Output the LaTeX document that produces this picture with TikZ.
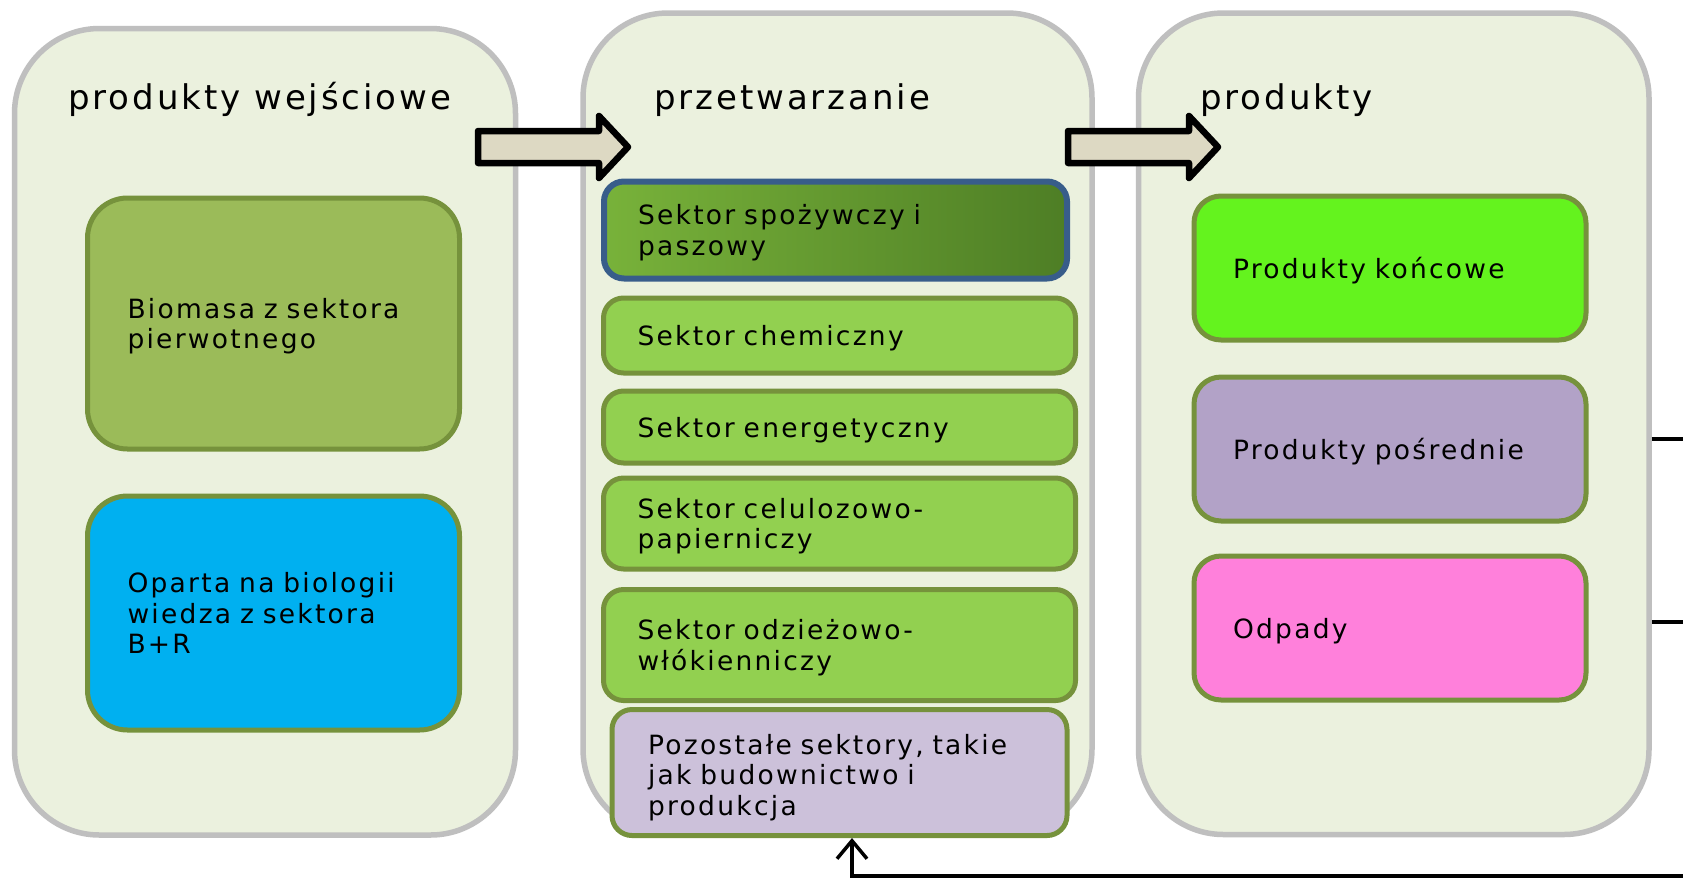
\documentclass[tikz,border=0pt]{standalone}
\usepackage{fontspec}
\setmainfont{DejaVu Sans}[LetterSpace=8.6]
\usetikzlibrary{arrows.meta}
\definecolor{panelfill}{RGB}{235,241,222}
\definecolor{panelline}{RGB}{191,191,191}
\definecolor{olive}{RGB}{118,146,60}
\definecolor{biomasa}{RGB}{155,187,89}
\definecolor{wiedza}{RGB}{0,176,240}
\definecolor{sektor}{RGB}{146,208,80}
\definecolor{spozA}{RGB}{120,178,58}
\definecolor{spozB}{RGB}{78,126,37}
\definecolor{spozline}{RGB}{56,93,138}
\definecolor{inne}{RGB}{204,193,218}
\definecolor{koncowe}{RGB}{100,243,30}
\definecolor{posrednie}{RGB}{178,162,199}
\definecolor{odpady}{RGB}{255,128,219}
\definecolor{strzalka}{RGB}{221,217,195}
\tikzstyle{panel} = [draw=panelline, fill=panelfill, line width=5.5pt, rounded corners=85pt, inner sep=0pt]
\tikzstyle{heading} = [font=\fontsize{34}{40}\selectfont, anchor=base west, inner sep=0pt]
\tikzstyle{box} = [draw=olive, line width=5pt, align=left, font=\fontsize{26.5}{30.5}\selectfont, inner ysep=0pt]
\tikzstyle{jednawiersz} = [text depth=0pt]
\tikzstyle{dwawiersze} = [text depth=31pt]
\tikzstyle{inbox} = [box, rounded corners=40pt, minimum width=372pt, text width=292pt, inner xsep=40pt]
\tikzstyle{sektorbox} = [box, fill=sektor, rounded corners=20pt, minimum width=472pt, text width=404pt, inner xsep=34pt]
\tikzstyle{outbox} = [box, jednawiersz, rounded corners=27pt, minimum width=392pt, text width=314pt, inner xsep=39pt, minimum height=144pt]
\tikzstyle{flow} = [draw=black, fill=strzalka, line width=6.5pt, line join=round]
\tikzstyle{conn} = [draw=black, line width=3.5pt]
\newcommand{\blokstrzalka}[1]{\draw[flow] (#1) -- ++(121,0) -- ++(0,-15) -- ++(29,31) -- ++(-29,31) -- ++(0,-15) -- ++(-121,0) -- cycle;}

\begin{document}
\begin{tikzpicture}[x=1pt, y=-1pt]
\useasboundingbox[fill=white] (0,0) rectangle (1683,879);

\node[panel, minimum width=501pt, minimum height=806.5pt] (wej) at (265,431.75) {};
\node[panel, minimum width=509pt, minimum height=821pt] (proc) at (837.5,423.5) {};
\node[panel, minimum width=510.5pt, minimum height=821.5pt] (wyj) at (1393.75,423.75) {};
\node[heading] (hwej) at (68,109) {produkty wejściowe};
\node[heading] (hproc) at (654,109) {przetwarzanie};
\node[heading] (hwyj) at (1200,109) {produkty};

\blokstrzalka{478,131}
\blokstrzalka{1068,131}

\node[inbox, dwawiersze, fill=biomasa, minimum height=251pt] (bio) at (273.5,323.5) {Biomasa z sektora\\pierwotnego};
\node[inbox, fill=wiedza, minimum height=234pt] (bir) at (273.5,613) {Oparta na biologii\\wiedza z sektora\\B+R};

\node[sektorbox, dwawiersze, draw=spozline, left color=spozA, right color=spozB, minimum width=463pt, text width=395pt, line width=6pt, minimum height=97pt] (spoz) at (835.5,230) {Sektor spożywczy i\\paszowy};
\node[sektorbox, jednawiersz, minimum height=75pt] (chem) at (839.5,335.5) {Sektor chemiczny};
\node[sektorbox, jednawiersz, minimum height=72pt] (energ) at (839.5,427) {Sektor energetyczny};
\node[sektorbox, dwawiersze, minimum height=91pt] (papier) at (839.5,523.5) {Sektor celulozowo-\\papierniczy};
\node[sektorbox, dwawiersze, minimum height=111pt] (tekst) at (839.5,645) {Sektor odzieżowo-\\włókienniczy};
\node[sektorbox, fill=inne, text depth=57pt, minimum width=455pt, text width=383pt, inner xsep=36pt, minimum height=126pt] (rest) at (839.5,772.5) {Pozostałe sektory, takie\\jak budownictwo i\\produkcja};

\node[outbox, fill=koncowe] (kon) at (1390,268) {Produkty końcowe};
\node[outbox, fill=posrednie] (posr) at (1390,449) {Produkty pośrednie};
\node[outbox, fill=odpady] (odp) at (1390,628) {Odpady};

\coordinate (k1) at (1683,439);
\coordinate (k2) at (1683,622);
\coordinate (k3) at (1683,876);
\draw[conn] (k1 -| wyj.east) -- (k1);
\draw[conn] (k2 -| wyj.east) -- (k2);
\draw[conn, -{Straight Barb[length=18pt,width=30pt]}] (k3) -| ([xshift=12.5pt]rest.south);
\end{tikzpicture}
\end{document}
